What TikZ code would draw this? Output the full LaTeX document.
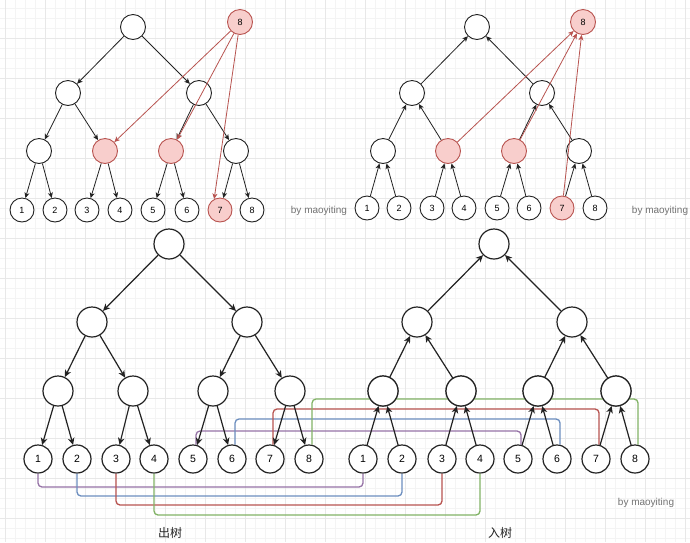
\documentclass[tikz,border=0pt]{standalone}
\usepackage{fontspec}
\setmainfont{Liberation Sans}
\newfontfamily\cjk{Noto Sans CJK SC}
\usetikzlibrary{arrows.meta}

\definecolor{rosy}{HTML}{B85450}
\definecolor{pinkfill}{HTML}{F8CECC}
\definecolor{lpurple}{HTML}{9673A6}
\definecolor{lblue}{HTML}{6C8EBF}
\definecolor{lred}{HTML}{B85450}
\definecolor{lgreen}{HTML}{82B366}
\definecolor{gridminor}{HTML}{F4F4F4}
\definecolor{gridmajor}{HTML}{E8E8E8}
\definecolor{ink}{HTML}{222222}

\begin{document}
\begin{tikzpicture}[x=1pt,y=-1pt,
  tnode/.style={circle,draw=ink,fill=white,line width=0.9pt,minimum size=25pt,inner sep=0pt,font=\fontsize{9}{9}\selectfont},
  tleaf/.style={tnode,minimum size=24pt},
  bnode/.style={circle,draw=ink,fill=white,line width=1.2pt,minimum size=30pt,inner sep=0pt,font=\fontsize{10.5}{10.5}\selectfont},
  bleaf/.style={bnode,minimum size=28pt},
  hot/.style={fill=pinkfill,draw=rosy},
  plain/.style={},
  tedge/.style={-{Stealth[length=5.5pt,width=5pt,inset=1.5pt]},line width=0.8pt,draw=ink},
  redge/.style={-{Stealth[length=5.5pt,width=5pt,inset=1.5pt]},line width=0.8pt,draw=rosy},
  bedge/.style={-{Stealth[length=7pt,width=6.5pt,inset=2pt]},line width=1.2pt,draw=ink},
  link/.style={line width=1.3pt,rounded corners=4pt},
  sign/.style={text=black!55,font=\fontsize{10}{10}\selectfont},
  caption/.style={text=ink,font=\cjk\fontsize{12}{12}\selectfont}]

% canvas and grid
\useasboundingbox (0,0) rectangle (690,542);
\fill[white] (0,0) rectangle (690,542);
\foreach \x in {5,15,...,685} \draw[gridminor,line width=0.5pt] (\x,0) -- (\x,542);
\foreach \y in {8,18,...,538} \draw[gridminor,line width=0.5pt] (0,\y) -- (690,\y);
\foreach \x in {5,45,...,685} \draw[gridmajor,line width=0.5pt] (\x,0) -- (\x,542);
\foreach \y in {38,78,...,518} \draw[gridmajor,line width=0.5pt] (0,\y) -- (690,\y);

% ---------- upper left: out-tree with query range ----------
\node[tnode] (tlR) at (133,27) {};
\node[tnode,hot] (tlX) at (240,22) {8};
\node[tnode] (tlA1) at (68,93) {};
\node[tnode] (tlA2) at (199,93) {};
\node[tnode] (tlB1) at (39,151) {};
\node[tnode,hot] (tlB2) at (105,151) {};
\node[tnode,hot] (tlB3) at (171,151) {};
\node[tnode] (tlB4) at (236,151) {};
\foreach \x/\s [count=\i] in {22/plain,55/plain,87/plain,120/plain,153/plain,187/plain,220/hot,252/plain}
  \node[tleaf,\s] (tlL\i) at (\x,210) {\i};
\foreach \p/\c in {R/A1,R/A2,A1/B1,A1/B2,A2/B3,A2/B4,B1/L1,B1/L2,B2/L3,B2/L4,B3/L5,B3/L6,B4/L7,B4/L8}
  \draw[tedge] (tl\p) -- (tl\c);
\draw[redge] (tlX) -- (tlB2);
\draw[redge] (tlX) -- (tlB3);
\draw[redge] (tlX) -- (tlL7.118);
\node[sign] (sigA) at (319,211) {by maoyiting};

% ---------- upper right: in-tree with query range ----------
\node[tnode] (trR) at (477,27) {};
\node[tnode,hot] (trX) at (583,22) {8};
\node[tnode] (trA1) at (412,93) {};
\node[tnode] (trA2) at (542,93) {};
\node[tnode] (trB1) at (383,151) {};
\node[tnode,hot] (trB2) at (448,151) {};
\node[tnode,hot] (trB3) at (514,151) {};
\node[tnode] (trB4) at (579,151) {};
\foreach \x/\s [count=\i] in {367/plain,399/plain,432/plain,464/plain,497/plain,529/plain,562/hot,595/plain}
  \node[tleaf,\s] (trL\i) at (\x,208) {\i};
\foreach \p/\c in {R/A1,R/A2,A1/B1,A1/B2,A2/B3,A2/B4,B1/L1,B1/L2,B2/L3,B2/L4,B3/L5,B3/L6,B4/L7,B4/L8}
  \draw[tedge] (tr\c) -- (tr\p);
\draw[redge] (trB2) -- (trX);
\draw[redge] (trB3) -- (trX);
\draw[redge] (trL7) -- (trX);
\node[sign] (sigB) at (660,211) {by maoyiting};

% ---------- lower part: leaves of both trees joined ----------
% routing levels of the joining lines
\coordinate (yPu) at (0,431);
\coordinate (yBu) at (0,419);
\coordinate (yRu) at (0,409);
\coordinate (yGu) at (0,399);
\coordinate (yPd) at (0,487);
\coordinate (yBd) at (0,496);
\coordinate (yRd) at (0,505);
\coordinate (yGd) at (0,515);

% out-tree (edges point down)
\node[bnode] (olR) at (169,244) {};
\node[bnode] (olA1) at (92,322) {};
\node[bnode] (olA2) at (247,322) {};
\foreach \x [count=\i] in {58,133,213,290}
  \node[bnode] (olB\i) at (\x,391) {};
\foreach \x [count=\i] in {38,77,116,154,193,232,270,309}
  \node[bleaf] (olL\i) at (\x,459) {\i};

% in-tree (edges point up)
\node[bnode] (inR) at (494,244) {};
\node[bnode] (inA1) at (417,322) {};
\node[bnode] (inA2) at (572,322) {};
\foreach \x [count=\i] in {383,461,538,616}
  \node[bnode] (inB\i) at (\x,391) {};
\foreach \x [count=\i] in {363,402,442,480,518,557,596,635}
  \node[bleaf] (inL\i) at (\x,459) {\i};

% joining lines, leaf i of one tree to leaf i of the other
\draw[link,lpurple] (olL1.south) -- (olL1.south |- yPd) -| (inL1.south);
\draw[link,lblue]   (olL2.south) -- (olL2.south |- yBd) -| (inL2.south);
\draw[link,lred]    (olL3.south) -- (olL3.south |- yRd) -| (inL3.south);
\draw[link,lgreen]  (olL4.south) -- (olL4.south |- yGd) -| (inL4.south);
\draw[link,lpurple] (olL5.78) -- (olL5.78 |- yPu) -| (inL5.78);
\draw[link,lblue]   (olL6.78) -- (olL6.78 |- yBu) -| (inL6.78);
\draw[link,lred]    (olL7.78) -- (olL7.78 |- yRu) -| (inL7.78);
\draw[link,lgreen]  (olL8.78) -- (olL8.78 |- yGu) -| (inL8.78);

% middle row of the in-tree drawn again over the joining lines
\foreach \x [count=\i] in {383,461,538,616}
  \node[bnode] (inC\i) at (\x,391) {};

\foreach \p/\c in {R/A1,R/A2,A1/B1,A1/B2,A2/B3,A2/B4}
  \draw[bedge] (ol\p) -- (ol\c);
\foreach \p/\c in {B1/L1,B1/L2,B2/L3,B2/L4,B3/L5,B3/L6,B4/L7,B4/L8}
  \draw[bedge] (ol\p) -- (ol\c);
\foreach \p/\c in {R/A1,R/A2,A1/B1,A1/B2,A2/B3,A2/B4}
  \draw[bedge] (in\c) -- (in\p);
\foreach \p/\c in {B1/L1,B1/L2,B2/L3,B2/L4,B3/L5,B3/L6,B4/L7,B4/L8}
  \draw[bedge] (in\c) -- (in\p);

\node[sign] (sigC) at (646,503) {by maoyiting};
\node[caption] (capOut) at (170,533) {出树};
\node[caption] (capIn) at (500,533) {入树};
\end{tikzpicture}
\end{document}
